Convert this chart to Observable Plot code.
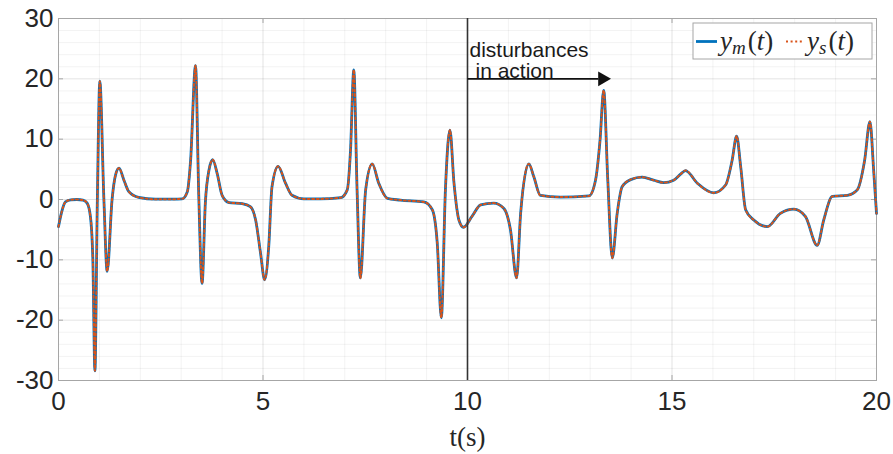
<!DOCTYPE html>
<html><head><meta charset="utf-8">
<script src="https://cdn.jsdelivr.net/npm/d3@7"></script>
<script src="https://cdn.jsdelivr.net/npm/@observablehq/plot@0.6"></script>
<style>body{margin:0;background:#fff}</style>
</head><body><div id="chart"></div>
<script>
// time samples (s)
const t = [0,0.08,0.17,0.3,0.45,0.6,0.7,0.78,0.84,0.89,0.95,1.01,1.11,1.19,1.31,1.40,1.48,1.60,1.72,1.96,2.37,2.8,
  3.02,3.15,3.23,3.35,3.43,3.51,3.59,3.68,3.77,3.88,4.0,4.17,4.49,4.69,4.82,4.94,5.04,5.14,5.22,5.37,5.55,5.71,6.0,6.4,6.9,
  7.06,7.14,7.22,7.30,7.38,7.51,7.67,7.83,8.04,8.36,8.93,9.14,9.26,9.36,9.46,9.57,9.67,9.79,9.90,10.11,10.32,10.64,10.89,
  11.05,11.2,11.3,11.5,11.62,11.78,12.27,12.97,13.13,13.24,13.33,13.43,13.54,13.66,13.78,13.99,14.27,14.55,14.8,15.04,15.21,
  15.33,15.62,16.02,16.31,16.47,16.58,16.68,16.80,17.0,17.33,17.65,17.98,18.26,18.55,18.71,18.92,19.29,19.53,19.71,19.84,19.93,20.0];
// model output y_m(t)
const ym = [-4.5,-2.0,-0.4,-0.05,0,-0.1,-0.6,-2.8,-10,-28.4,0,19.6,0,-11.9,0,4.2,5.2,3.2,1.3,0.35,0.05,0.05,
  0.1,1.3,6.5,22.2,0.5,-13.9,-0.6,4.9,6.6,4.3,0.7,-0.5,-0.7,-1.2,-3.4,-8.9,-13.3,-7.8,2.1,5.5,2.7,0.7,0.1,0.1,0.3,
  1.6,8.2,21.5,1.6,-13.0,1.6,5.9,2.7,0.2,-0.1,-0.4,-1.7,-7.2,-19.6,1.6,11.5,2.7,-3.4,-4.6,-2.8,-0.9,-0.6,-1.5,
  -5.0,-13.0,-2.2,5.9,3.8,0.7,0.4,0.6,3.2,9.8,18.1,3.2,-9.7,-2.3,2.1,3.3,3.7,3.2,2.8,3.2,4.2,
  4.8,2.7,1.1,2.4,6.5,10.5,5.4,-1.7,-3.4,-4.5,-2.3,-1.6,-2.8,-7.6,-3.4,0.5,0.7,1.6,6.5,12.9,4.9,-2.3];
// system output y_s(t) (visually identical to y_m)
const ys = [-4.5,-2.0,-0.4,-0.05,0,-0.1,-0.6,-2.8,-10,-28.4,0,19.6,0,-11.9,0,4.2,5.2,3.2,1.3,0.35,0.05,0.05,
  0.1,1.3,6.5,22.2,0.5,-13.9,-0.6,4.9,6.6,4.3,0.7,-0.5,-0.7,-1.2,-3.4,-8.9,-13.3,-7.8,2.1,5.5,2.7,0.7,0.1,0.1,0.3,
  1.6,8.2,21.5,1.6,-13.0,1.6,5.9,2.7,0.2,-0.1,-0.4,-1.7,-7.2,-19.6,1.6,11.5,2.7,-3.4,-4.6,-2.8,-0.9,-0.6,-1.5,
  -5.0,-13.0,-2.2,5.9,3.8,0.7,0.4,0.6,3.2,9.8,18.1,3.2,-9.7,-2.3,2.1,3.3,3.7,3.2,2.8,3.2,4.2,
  4.8,2.7,1.1,2.4,6.5,10.5,5.4,-1.7,-3.4,-4.5,-2.3,-1.6,-2.8,-7.6,-3.4,0.5,0.7,1.6,6.5,12.9,4.9,-2.3];

const xTicks = [0, 5, 10, 15, 20];
const yTicks = [-30, -20, -10, 0, 10, 20, 30];
const xMinor = [1,2,3,4,6,7,8,9,11,12,13,14,16,17,18,19];
const yMinor = [-28,-26,-24,-22,-18,-16,-14,-12,-8,-6,-4,-2,2,4,6,8,12,14,16,18,22,24,26,28];
const disturbanceTime = [10];
const arrowSeg = [{x1: 10, x2: 13.2, y: 20}];
const arrowHead = [{x: 13.3, y: 20}];
const annotLine1 = [{x: 10, y: 20, text: "disturbances"}];
const annotLine2 = [{x: 10, y: 20, text: "in action"}];

const dataM = t.map((d, i) => ({t: d, y: ym[i]}));
const dataS = t.map((d, i) => ({t: d, y: ys[i]}));

const W = 893, H = 454, mL = 58, mR = 17, mT = 18, mB = 74;
const fw = W - mL - mR, fh = H - mT - mB;
const sans = "'Liberation Sans', Arial, Helvetica, sans-serif";
const serif = "'Liberation Serif', 'Times New Roman', serif";
const ink = "#262626";
const dash = "2,2.6";

const svg = Plot.plot({
  width: W, height: H,
  marginLeft: mL, marginRight: mR, marginTop: mT, marginBottom: mB,
  style: {fontFamily: sans, background: "#fff", overflow: "visible"},
  x: {domain: [0, 20]},
  y: {domain: [-30, 30]},
  marks: [
    Plot.gridX(xMinor, {stroke: "#000", strokeOpacity: 0.05}),
    Plot.gridY(yMinor, {stroke: "#000", strokeOpacity: 0.05}),
    Plot.gridX(xTicks, {stroke: "#000", strokeOpacity: 0.11}),
    Plot.gridY(yTicks, {stroke: "#000", strokeOpacity: 0.11}),
    Plot.frame({stroke: "#a6a6a6", strokeWidth: 1}),
    Plot.ruleX(xTicks, {stroke: "#a6a6a6", insetTop: fh - 5}),
    Plot.ruleX(xTicks, {stroke: "#a6a6a6", insetBottom: fh - 5}),
    Plot.ruleY(yTicks, {stroke: "#a6a6a6", insetRight: fw - 5}),
    Plot.ruleY(yTicks, {stroke: "#a6a6a6", insetLeft: fw - 5}),
    Plot.axisX(xTicks, {tickSize: 0, tickPadding: 11, fontSize: 26, fill: ink, label: null, tickFormat: d => String(d)}),
    Plot.axisY(yTicks, {tickSize: 0, tickPadding: 5, fontSize: 26, fill: ink, label: null, tickFormat: d => d < 0 ? "-" + Math.abs(d) : String(d)}),
    Plot.text(["t(s)"], {frameAnchor: "bottom", dy: 57, fontFamily: serif, fontSize: 27, fill: ink, lineAnchor: "middle"}),
    Plot.line(dataM, {x: "t", y: "y", stroke: "#0072BD", strokeWidth: 2.8, curve: "monotone-x"}),
    Plot.line(dataS, {x: "t", y: "y", stroke: "#D95319", strokeWidth: 2, strokeDasharray: dash, curve: "monotone-x"}),
    Plot.ruleX(disturbanceTime, {stroke: "#333", strokeWidth: 1.6}),
    Plot.link(arrowSeg, {x1: "x1", x2: "x2", y1: "y", y2: "y", stroke: "#111", strokeWidth: 1.6}),
    Plot.dot(arrowHead, {x: "x", y: "y", symbol: "triangle", rotate: 90, r: 5.5, fill: "#111", stroke: "none"}),
    Plot.text(annotLine1, {x: "x", y: "y", text: "text", textAnchor: "start", lineAnchor: "bottom", dx: 2, dy: -22, fontSize: 21, fill: "#1a1a1a"}),
    Plot.text(annotLine2, {x: "x", y: "y", text: "text", textAnchor: "start", lineAnchor: "bottom", dx: 8, dy: -1, fontSize: 21, fill: "#1a1a1a"})
  ]
});

// legend box
const g = d3.select(svg).append("g").attr("text-anchor", "start");
g.append("rect").attr("x", 693).attr("y", 23).attr("width", 179).attr("height", 36)
  .attr("fill", "#fff").attr("stroke", "#a6a6a6").attr("stroke-width", 1);
g.append("line").attr("x1", 696).attr("x2", 717).attr("y1", 41.5).attr("y2", 41.5)
  .attr("stroke", "#0072BD").attr("stroke-width", 2.8);
g.append("line").attr("x1", 786).attr("x2", 804).attr("y1", 41.5).attr("y2", 41.5)
  .attr("stroke", "#D95319").attr("stroke-width", 2).attr("stroke-dasharray", dash);
function mathLabel(x, sub) {
  const tx = g.append("text").attr("x", x).attr("y", 50).attr("font-family", serif)
    .attr("font-size", 27).attr("fill", ink).attr("text-anchor", "start");
  tx.append("tspan").attr("font-style", "italic").text("y");
  tx.append("tspan").attr("font-style", "italic").attr("font-size", 19).attr("dy", 4).text(sub);
  tx.append("tspan").attr("dy", -4).attr("dx", 2).text("(");
  tx.append("tspan").attr("font-style", "italic").text("t");
  tx.append("tspan").text(")");
}
mathLabel(720, "m");
mathLabel(807, "s");

document.getElementById("chart").appendChild(svg);
</script>
</body></html>
